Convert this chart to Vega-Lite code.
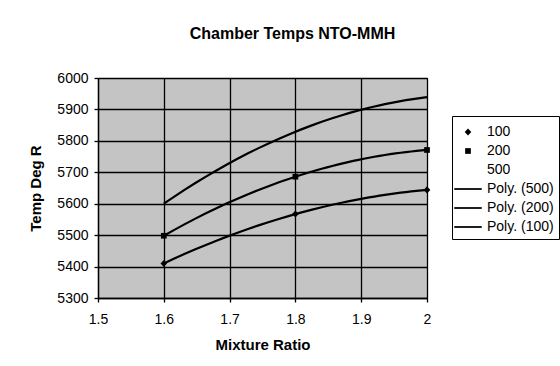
{
  "$schema": "https://vega.github.io/schema/vega-lite/v6.json",
  "width": 329,
  "height": 220,
  "autosize": {"type": "none"},
  "padding": {"left": 98, "top": 78, "right": 133, "bottom": 68},
  "background": "white",
  "title": {"text": "Chamber Temps NTO-MMH", "font": "Liberation Sans", "fontSize": 16, "fontWeight": "bold", "color": "black", "anchor": "middle", "dx": 30, "offset": 29},
  "config": {
    "view": {"fill": "#c4c4c4", "stroke": "black", "strokeWidth": 1},
    "font": "Liberation Sans",
    "axis": {"gridColor": "black", "gridWidth": 1.3, "gridOpacity": 1, "domainColor": "black", "domainWidth": 1.3, "tickColor": "black", "tickWidth": 1.3, "tickSize": 4, "labelColor": "black", "labelFont": "Liberation Sans", "labelFontSize": 14, "titleFont": "Liberation Sans", "titleFontSize": 15, "titleFontWeight": "bold", "titleColor": "black", "labelFlush": false, "labelOverlap": false},
    "axisX": {"labelPadding": 10, "titlePadding": 11},
    "axisY": {"labelPadding": 6, "titlePadding": 13}
  },
  "data": {"values": [
    {"ratio": 1.6, "temp": 5410, "series": "100", "label": "100"},
    {"ratio": 1.8, "temp": 5567, "series": "100", "label": "100"},
    {"ratio": 2.0, "temp": 5644, "series": "100", "label": "100"},
    {"ratio": 1.6, "temp": 5498, "series": "200", "label": "200"},
    {"ratio": 1.8, "temp": 5686, "series": "200", "label": "200"},
    {"ratio": 2.0, "temp": 5771, "series": "200", "label": "200"},
    {"ratio": 1.6, "temp": 5600, "series": "500", "label": "500"},
    {"ratio": 1.8, "temp": 5829, "series": "500", "label": "500"},
    {"ratio": 2.0, "temp": 5939, "series": "500", "label": "500"}
  ]},
  "layer": [
    {
      "transform": [{"regression": "temp", "on": "ratio", "groupby": ["series"], "method": "poly", "order": 2}],
      "mark": {"type": "line", "color": "black", "strokeWidth": 2.2},
      "encoding": {
        "x": {"field": "ratio", "type": "quantitative", "scale": {"domain": [1.5, 2]}, "axis": {"values": [1.5, 1.6, 1.7, 1.8, 1.9, 2], "format": "~g"}, "title": "Mixture Ratio"},
        "y": {"field": "temp", "type": "quantitative", "scale": {"domain": [5300, 6000]}, "axis": {"values": [5300, 5400, 5500, 5600, 5700, 5800, 5900, 6000], "format": "d", "tickCount": 8}, "title": "Temp Deg R"},
        "detail": {"field": "series"}
      }
    },
    {
      "mark": {"type": "point", "filled": true, "color": "black", "size": 484, "opacity": 1},
      "encoding": {
        "x": {"field": "ratio", "type": "quantitative", "axis": {"values": [1.5, 1.6, 1.7, 1.8, 1.9, 2], "format": "~g"}, "title": "Mixture Ratio"},
        "y": {"field": "temp", "type": "quantitative", "axis": {"values": [5300, 5400, 5500, 5600, 5700, 5800, 5900, 6000], "format": "d", "tickCount": 8}, "title": "Temp Deg R"},
        "shape": {
          "field": "label", "type": "nominal",
          "scale": {
            "domain": ["100", "200", "500", "Poly. (500)", "Poly. (200)", "Poly. (100)"],
            "range": ["M0,-0.32L0.3,0L0,0.32L-0.3,0Z", "M-0.26,-0.26L0.26,-0.26L0.26,0.26L-0.26,0.26Z", "M0,0Z", "M-1.25,-0.08L1.25,-0.08L1.25,0.08L-1.25,0.08Z", "M-1.25,-0.08L1.25,-0.08L1.25,0.08L-1.25,0.08Z", "M-1.25,-0.08L1.25,-0.08L1.25,0.08L-1.25,0.08Z"]
          },
          "legend": {"title": null, "orient": "none", "legendX": 354, "legendY": 38, "padding": 5, "strokeColor": "black", "fillColor": "white", "symbolSize": 484, "symbolFillColor": "black", "symbolStrokeWidth": 0, "symbolOpacity": 1, "labelFontSize": 14, "labelFont": "Liberation Sans", "labelColor": "black", "labelOffset": 8, "rowPadding": 1, "labelLimit": 200}
        }
      }
    }
  ]
}
